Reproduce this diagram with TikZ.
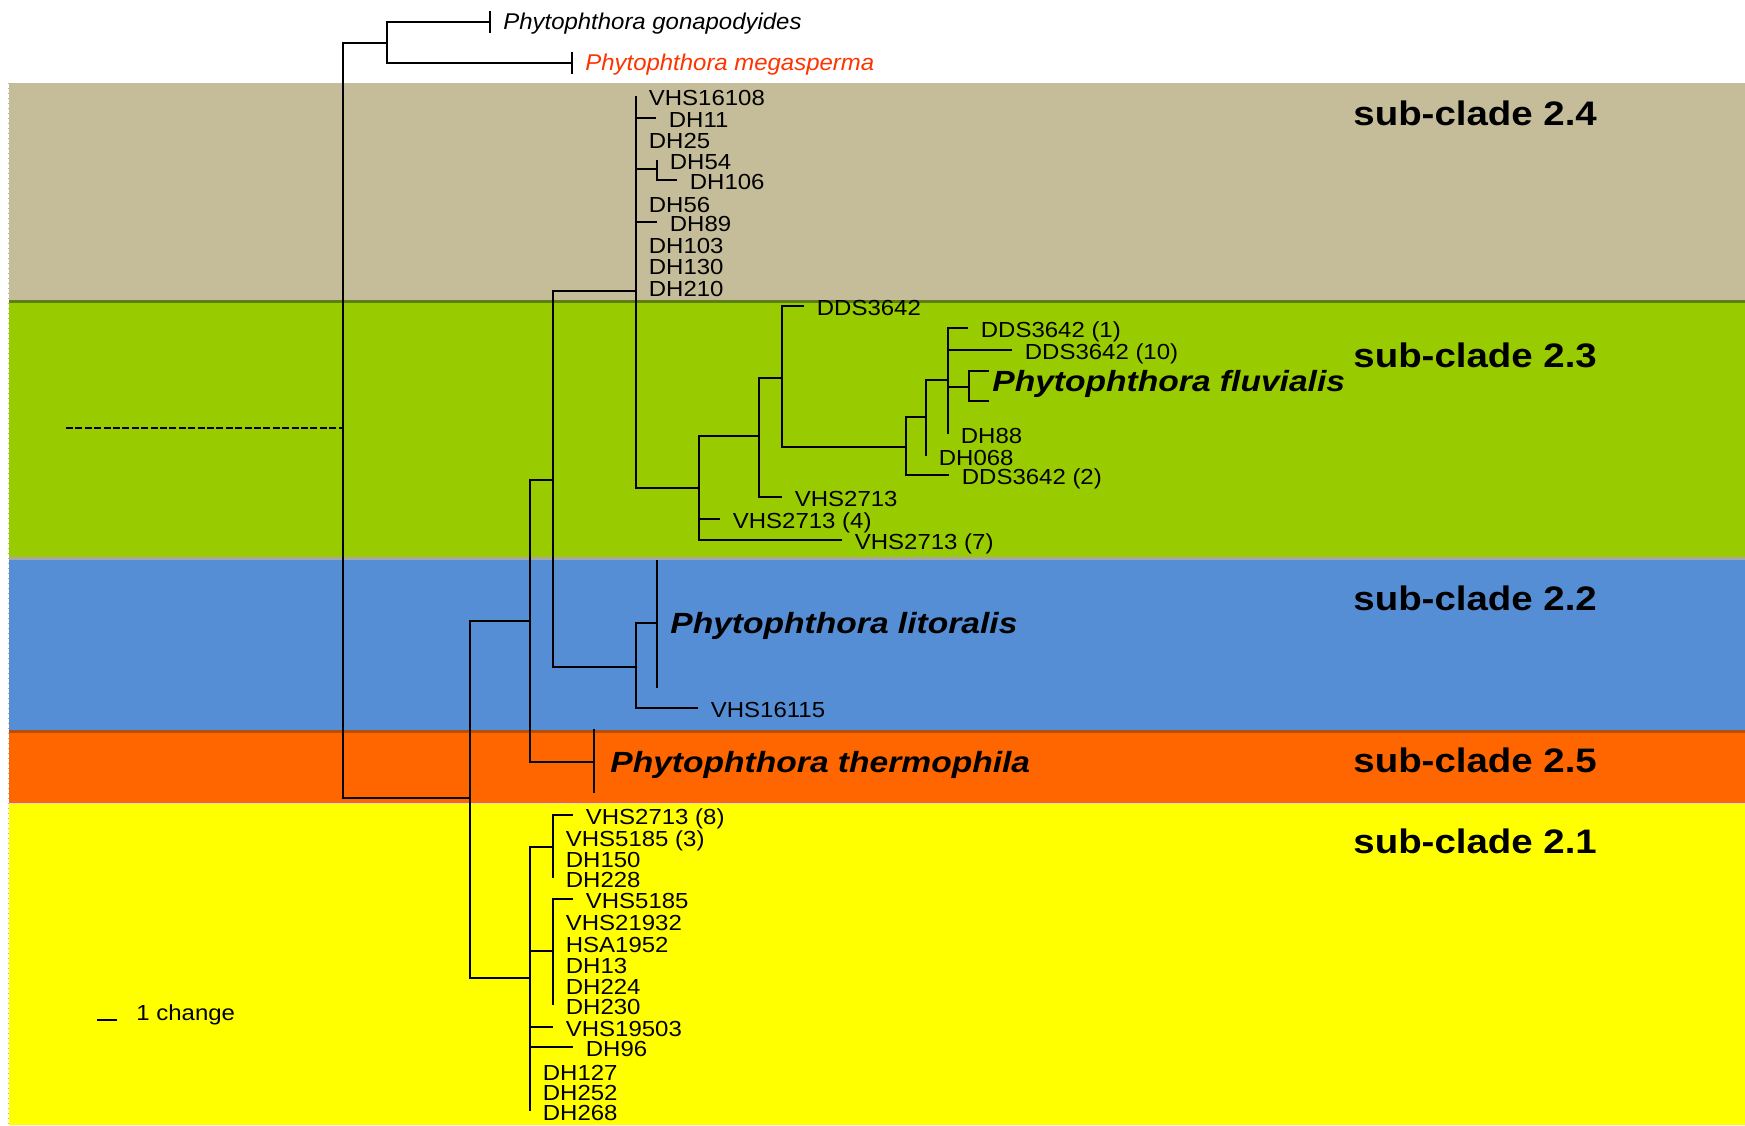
\documentclass[tikz,border=0pt]{standalone}
\usepackage{fontspec}
\setmainfont{Liberation Sans}
\newfontfamily\lblfont{Liberation Sans}[FakeStretch=1.1]
\newfontfamily\topfont{Liberation Sans}[FakeStretch=1.05]
\newfontfamily\spfont{Liberation Sans}[FakeStretch=1.15]
\newfontfamily\cladefont{Liberation Sans}[FakeStretch=1.13]
\usetikzlibrary{positioning}
\definecolor{bandtan}{HTML}{C5BD9A}
\definecolor{bandgreen}{HTML}{99CC00}
\definecolor{bandblue}{HTML}{558ED5}
\definecolor{bandorange}{HTML}{FF6600}
\definecolor{bandyellow}{HTML}{FFFF00}
\definecolor{megared}{HTML}{FF3300}
\definecolor{edgeolive}{HTML}{5E7F12}
\definecolor{edgegray}{HTML}{A6A6A6}
\definecolor{edgebrown}{HTML}{B4500A}

% tip coordinate + its label
\newcommand{\leaf}[4]{%
  \coordinate (#1) at (#2,#3);
  \node[lbl, right=6.25pt of #1] (#1-l) {#4};}

\begin{document}
\begin{tikzpicture}[x=0.5pt, y=-0.5pt,
    br/.style={line width=0.6pt, black},
    lbl/.style={inner sep=0pt, anchor=west, yshift=-1pt, font=\lblfont\fontsize{10.9}{13}\selectfont, text height=7.8pt, text depth=0pt},
    toplbl/.style={lbl, yshift=1.2pt, font=\topfont\itshape\fontsize{11.4}{13}\selectfont, text height=8.2pt},
    sp/.style={lbl, yshift=1pt, font=\spfont\bfseries\itshape\fontsize{14.6}{17}\selectfont, text height=10.5pt},
    clade/.style={inner sep=0pt, anchor=west, font=\cladefont\bfseries\fontsize{17}{20}\selectfont, text height=12.2pt, text depth=0pt}]
    \useasboundingbox (0,0) rectangle (1745,1125);

    % coloured bands
    \fill[bandtan] (9,83) rectangle (1745,301);
    \fill[bandgreen] (9,301) rectangle (1745,558);
    \fill[bandblue] (9,558) rectangle (1745,731);
    \fill[bandorange] (9,731) rectangle (1745,803);
    \fill[bandyellow] (9,803) rectangle (1745,1125);
    \draw[edgeolive, line width=1.5pt] (9,301.5) -- (1745,301.5);
    \draw[edgegray, line width=1.5pt] (9,558) -- (1745,558);
    \draw[edgebrown, line width=1.5pt] (9,731.5) -- (1745,731.5);
    \draw[gray!25, line width=0.5pt] (9,803) -- (1745,803);
    \draw[gray!60, line width=0.5pt, dotted] (8.5,83) -- (8.5,1125);

    % outgroup
    \coordinate (gona) at (490,22);
    \node[toplbl, right=6.5pt of gona] (gona-l) {Phytophthora gonapodyides};
    \coordinate (mega) at (572,63);
    \node[toplbl, text=megared, right=6.5pt of mega] (mega-l) {Phytophthora megasperma};

    % sub-clade 2.4
    \leaf{vhs16108}{636}{96}{VHS16108}
    \leaf{dh11}{656}{118}{DH11}
    \leaf{dh25}{636}{139}{DH25}
    \leaf{dh54}{657}{160}{DH54}
    \leaf{dh106}{677}{180}{DH106}
    \leaf{dh56}{636}{203}{DH56}
    \leaf{dh89}{657}{222}{DH89}
    \leaf{dh103}{636}{244}{DH103}
    \leaf{dh130}{636}{265}{DH130}
    \leaf{dh210}{636}{287}{DH210}

    % sub-clade 2.3
    \leaf{dds}{804}{306}{DDS3642}
    \leaf{ddsa}{968}{328}{DDS3642 (1)}
    \leaf{ddsj}{1012}{350}{DDS3642 (10)}
    \leaf{dh88}{948}{434}{DH88}
    \leaf{dh068}{926}{456}{DH068}
    \leaf{ddsb}{949}{475}{DDS3642 (2)}
    \leaf{vhs2713}{782}{497}{VHS2713}
    \leaf{vhsd}{720}{519}{VHS2713 (4)}
    \leaf{vhsg}{842}{540}{VHS2713 (7)}
    \coordinate (fla) at (989,371);
    \coordinate (flb) at (989,401);
    \node[sp] (fluv) at (992,381) {Phytophthora fluvialis};

    % sub-clade 2.2
    \coordinate (lit) at (657,623);
    \node[sp, right=6.5pt of lit] (lit-l) {Phytophthora litoralis};
    \leaf{vhs16115}{698}{708}{VHS16115}

    % sub-clade 2.5
    \coordinate (th) at (594,762);
    \node[sp, right=8pt of th] (th-l) {Phytophthora thermophila};

    % sub-clade 2.1
    \leaf{vhsh}{573}{815}{VHS2713 (8)}
    \leaf{vhs5185c}{553}{837}{VHS5185 (3)}
    \leaf{dh150}{553}{858}{DH150}
    \leaf{dh228}{553}{878}{DH228}
    \leaf{vhs5185}{573}{899}{VHS5185}
    \leaf{vhs21932}{553}{921}{VHS21932}
    \leaf{hsa1952}{553}{943}{HSA1952}
    \leaf{dh13}{553}{964}{DH13}
    \leaf{dh224}{553}{985}{DH224}
    \leaf{dh230}{553}{1005}{DH230}
    \leaf{vhs19503}{553}{1027}{VHS19503}
    \leaf{dh96}{573}{1047}{DH96}
    \leaf{dh127}{530}{1071}{DH127}
    \leaf{dh252}{530}{1091}{DH252}
    \leaf{dh268}{530}{1111}{DH268}

    % internal nodes
    \coordinate (stem) at (66,428);
    \coordinate (root) at (343,428);
    \coordinate (nOut) at (387,43);
    \coordinate (nIn) at (470,798);
    \coordinate (nA) at (530,621);
    \coordinate (nB) at (553,480);
    \coordinate (nC) at (636,291);
    \coordinate (n24a) at (657,169);
    \coordinate (n23) at (699,488);
    \coordinate (nD) at (759,436);
    \coordinate (nE) at (782,378);
    \coordinate (nF) at (906,447);
    \coordinate (nG) at (926,417);
    \coordinate (nH) at (948,380);
    \coordinate (nFl) at (969,387);
    \coordinate (n22) at (636,667);
    \coordinate (n21) at (530,978);
    \coordinate (n21a) at (553,847);
    \coordinate (n21b) at (553,951);

    % branches
    \draw[line width=1.2pt, dash pattern=on 3.5pt off 1.2pt] (stem) -- (root);
    \foreach \p/\c in {root/nOut, root/nIn, nOut/gona, nOut/mega,
        nIn/nA, nIn/n21, nA/nB, nA/th, nB/nC, nB/n22,
        n24a/dh54, n24a/dh106,
        n23/nD, n23/vhsd, n23/vhsg, nD/nE, nD/vhs2713, nE/dds, nE/nF,
        nF/nG, nF/ddsb, nG/nH, nG/dh068,
        nH/ddsa, nH/ddsj, nH/nFl, nH/dh88, nFl/fla, nFl/flb,
        n22/lit, n22/vhs16115,
        n21a/vhsh, n21a/vhs5185c, n21a/dh150, n21a/dh228,
        n21b/vhs5185, n21b/vhs21932, n21b/hsa1952, n21b/dh13, n21b/dh224, n21b/dh230}
        \draw[br] (\p) |- (\c);
    \foreach \c in {vhs16108, dh11, dh25, n24a, dh56, dh89, dh103, dh130, dh210, n23}
        \draw[br] (nC) |- (\c);
    \foreach \c in {n21a, n21b, vhs19503, dh96, dh127, dh252, dh268}
        \draw[br] (n21) |- (\c);

    % collapsed tips
    \draw[br] ([yshift=5.5pt]gona) -- ([yshift=-5.5pt]gona);
    \draw[br] ([yshift=5.5pt]mega) -- ([yshift=-5.5pt]mega);
    \draw[br] ([yshift=31.5pt]lit) -- ([yshift=-32.5pt]lit);
    \draw[br] ([yshift=16.5pt]th) -- ([yshift=-15.5pt]th);

    % sub-clade labels
    \node[clade] (c24) at (1353,113) {sub-clade 2.4};
    \node[clade] (c23) at (1353,355) {sub-clade 2.3};
    \node[clade] (c22) at (1353,598) {sub-clade 2.2};
    \node[clade] (c25) at (1353,760) {sub-clade 2.5};
    \node[clade] (c21) at (1353,841) {sub-clade 2.1};

    % scale bar
    \coordinate (sba) at (97,1020);
    \coordinate (sbb) at (117,1020);
    \draw[br] (sba) -- (sbb);
    \node[lbl, anchor=base west, yshift=1pt] (sbl) at ([xshift=9.5pt]sbb) {1 change};
\end{tikzpicture}
\end{document}
